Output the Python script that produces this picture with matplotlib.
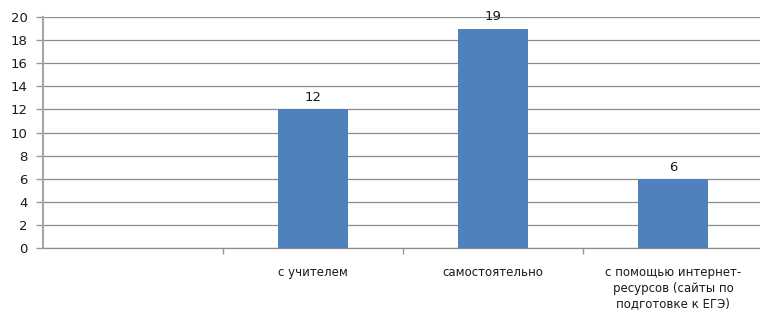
import numpy as np
import matplotlib
matplotlib.use('Agg')
import matplotlib.pyplot as plt

categories = ['', 'с учителем', 'самостоятельно',
              'с помощью интернет-\nресурсов (сайты по\nподготовке к ЕГЭ)']
values = [0, 12, 19, 6]
show_bar = [False, True, True, True]
yticks = [0, 2, 4, 6, 8, 10, 12, 14, 16, 18, 20]

plt.rcParams['font.family'] = ['DejaVu Sans']

fig = plt.figure(figsize=(7.6, 3.1), dpi=100)
ax = fig.add_axes([43/760, 62/310, 720/760, 231/310])

x = np.arange(len(categories))
for xi, v, s in zip(x, values, show_bar):
    if s:
        ax.bar(xi, v, width=0.39, color='#4F81BD', zorder=3)
        ax.text(xi, v + 0.45, str(v), ha='center', va='bottom',
                fontsize=9.5, color='#1a1a1a', zorder=4)

ax.set_xlim(-0.5, len(categories) - 0.5)
ax.set_ylim(0, 20)
ax.set_yticks(yticks)
ax.set_yticklabels([str(t) for t in yticks], fontsize=9.5, color='#1a1a1a')
ax.yaxis.grid(True, color='#8c8c8c', linewidth=0.9, zorder=0)

# category labels at centres, tick marks at boundaries
ax.set_xticks(x)
ax.set_xticklabels(categories, fontsize=8.5, color='#1a1a1a',
                   linespacing=1.25, va='top')
ax.tick_params(axis='x', length=0, pad=13)
ax.set_xticks(np.arange(len(categories)) + 0.5, minor=True)
ax.tick_params(axis='x', which='minor', length=4, color='#9a9a9a', width=1)
ax.tick_params(axis='y', length=5, color='#9a9a9a', width=1, pad=6)

for side in ['top', 'right']:
    ax.spines[side].set_visible(False)
ax.spines['left'].set_color('#a6a6a6')
ax.spines['left'].set_linewidth(1.5)
ax.spines['bottom'].set_color('#8c8c8c')
ax.spines['bottom'].set_linewidth(0.9)

fig.savefig('out.png', dpi=100, facecolor='white')
